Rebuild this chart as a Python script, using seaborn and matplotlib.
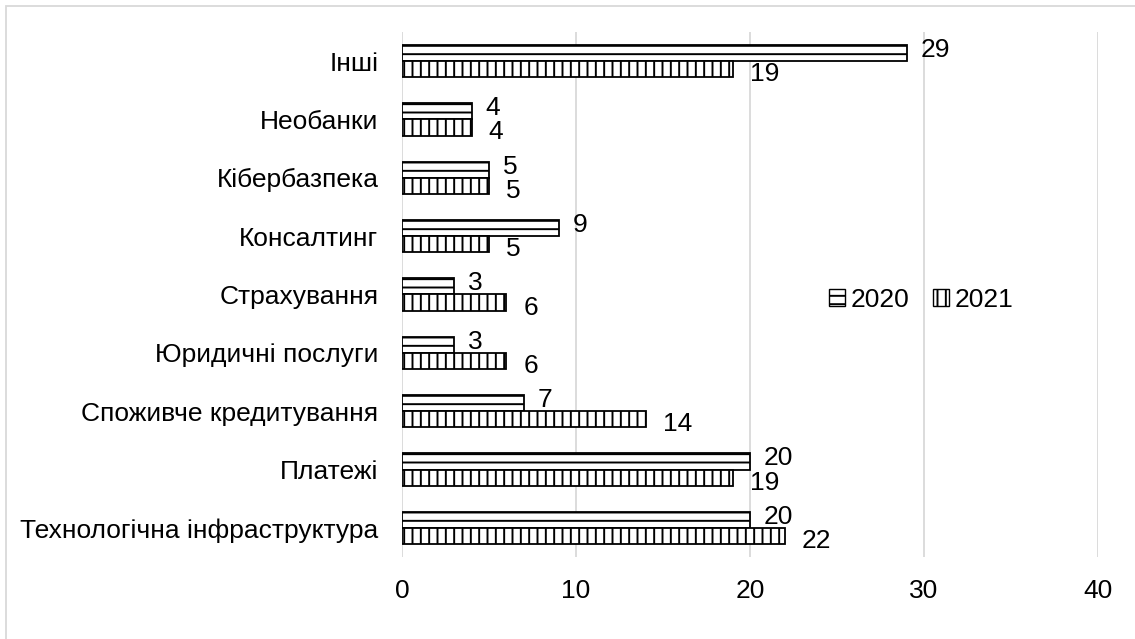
import numpy as np
import pandas as pd
import seaborn as sns
import matplotlib.pyplot as plt
from matplotlib.patches import Rectangle, Patch

categories = ['Інші', 'Необанки', 'Кібербазпека', 'Консалтинг', 'Страхування',
              'Юридичні послуги', 'Споживче кредитування', 'Платежі',
              'Технологічна інфраструктура']
years = ['2020', '2021']
vals_2020 = [29, 4, 5, 9, 3, 3, 7, 20, 20]
vals_2021 = [19, 4, 5, 5, 6, 6, 14, 19, 22]
hatches = {'2020': '--', '2021': '||'}

df = pd.DataFrame({
    'category': categories * 2,
    'year': ['2020'] * len(categories) + ['2021'] * len(categories),
    'value': vals_2020 + vals_2021,
})

sns.set_style('white')
plt.rcParams['font.family'] = ['Liberation Sans', 'DejaVu Sans']
plt.rcParams['hatch.linewidth'] = 1.4
plt.rcParams['text.color'] = 'black'
plt.rcParams['xtick.color'] = 'black'
plt.rcParams['ytick.color'] = 'black'

fs = 19

fig = plt.figure(figsize=(11.35, 6.39), dpi=100)
ax = fig.add_axes([0.3542, 0.1283, 0.6132, 0.8217])

sns.barplot(data=df, x='value', y='category', hue='year', hue_order=years,
            order=categories, orient='h', width=0.55, ax=ax,
            palette=['white', 'white'],
            edgecolor='black', linewidth=1.3, legend=False)

for cont, yr in zip(ax.containers, years):
    for p in cont:
        p.set_hatch(hatches[yr])
    dy = 3 if yr == '2020' else -5
    dx = 14 if yr == '2020' else 17
    for p in cont:
        w = p.get_width()
        yc = p.get_y() + p.get_height() / 2
        ax.annotate(f'{w:g}', xy=(w, yc), xytext=(dx, dy), textcoords='offset pixels',
                    ha='left', va='center', fontsize=fs)

ax.set_xlim(0, 40)
ax.set_xticks([0, 10, 20, 30, 40])
ax.xaxis.grid(True, color='#d9d9d9', linewidth=1.3)
ax.set_axisbelow(True)
for s in ax.spines.values():
    s.set_visible(False)
ax.set_xlabel('')
ax.set_ylabel('')
ax.tick_params(axis='both', length=0, labelsize=fs)
ax.tick_params(axis='x', pad=16)
ax.tick_params(axis='y', pad=17)

handles = [Patch(facecolor='white', edgecolor='black', hatch=hatches[y], label=y) for y in years]
ax.legend(handles=handles, loc='center left', bbox_to_anchor=(0.58, 0.49), frameon=False,
          ncol=2, fontsize=fs, handlelength=0.6, handleheight=0.6, handletextpad=0.2,
          columnspacing=0.9)

fig.patches.append(Rectangle((6 / 1135, -0.1), 1.2, 1 - 6 / 639 + 0.1, transform=fig.transFigure,
                             fill=False, edgecolor='#d9d9d9', linewidth=1.3))

fig.savefig('out.png', dpi=100)
